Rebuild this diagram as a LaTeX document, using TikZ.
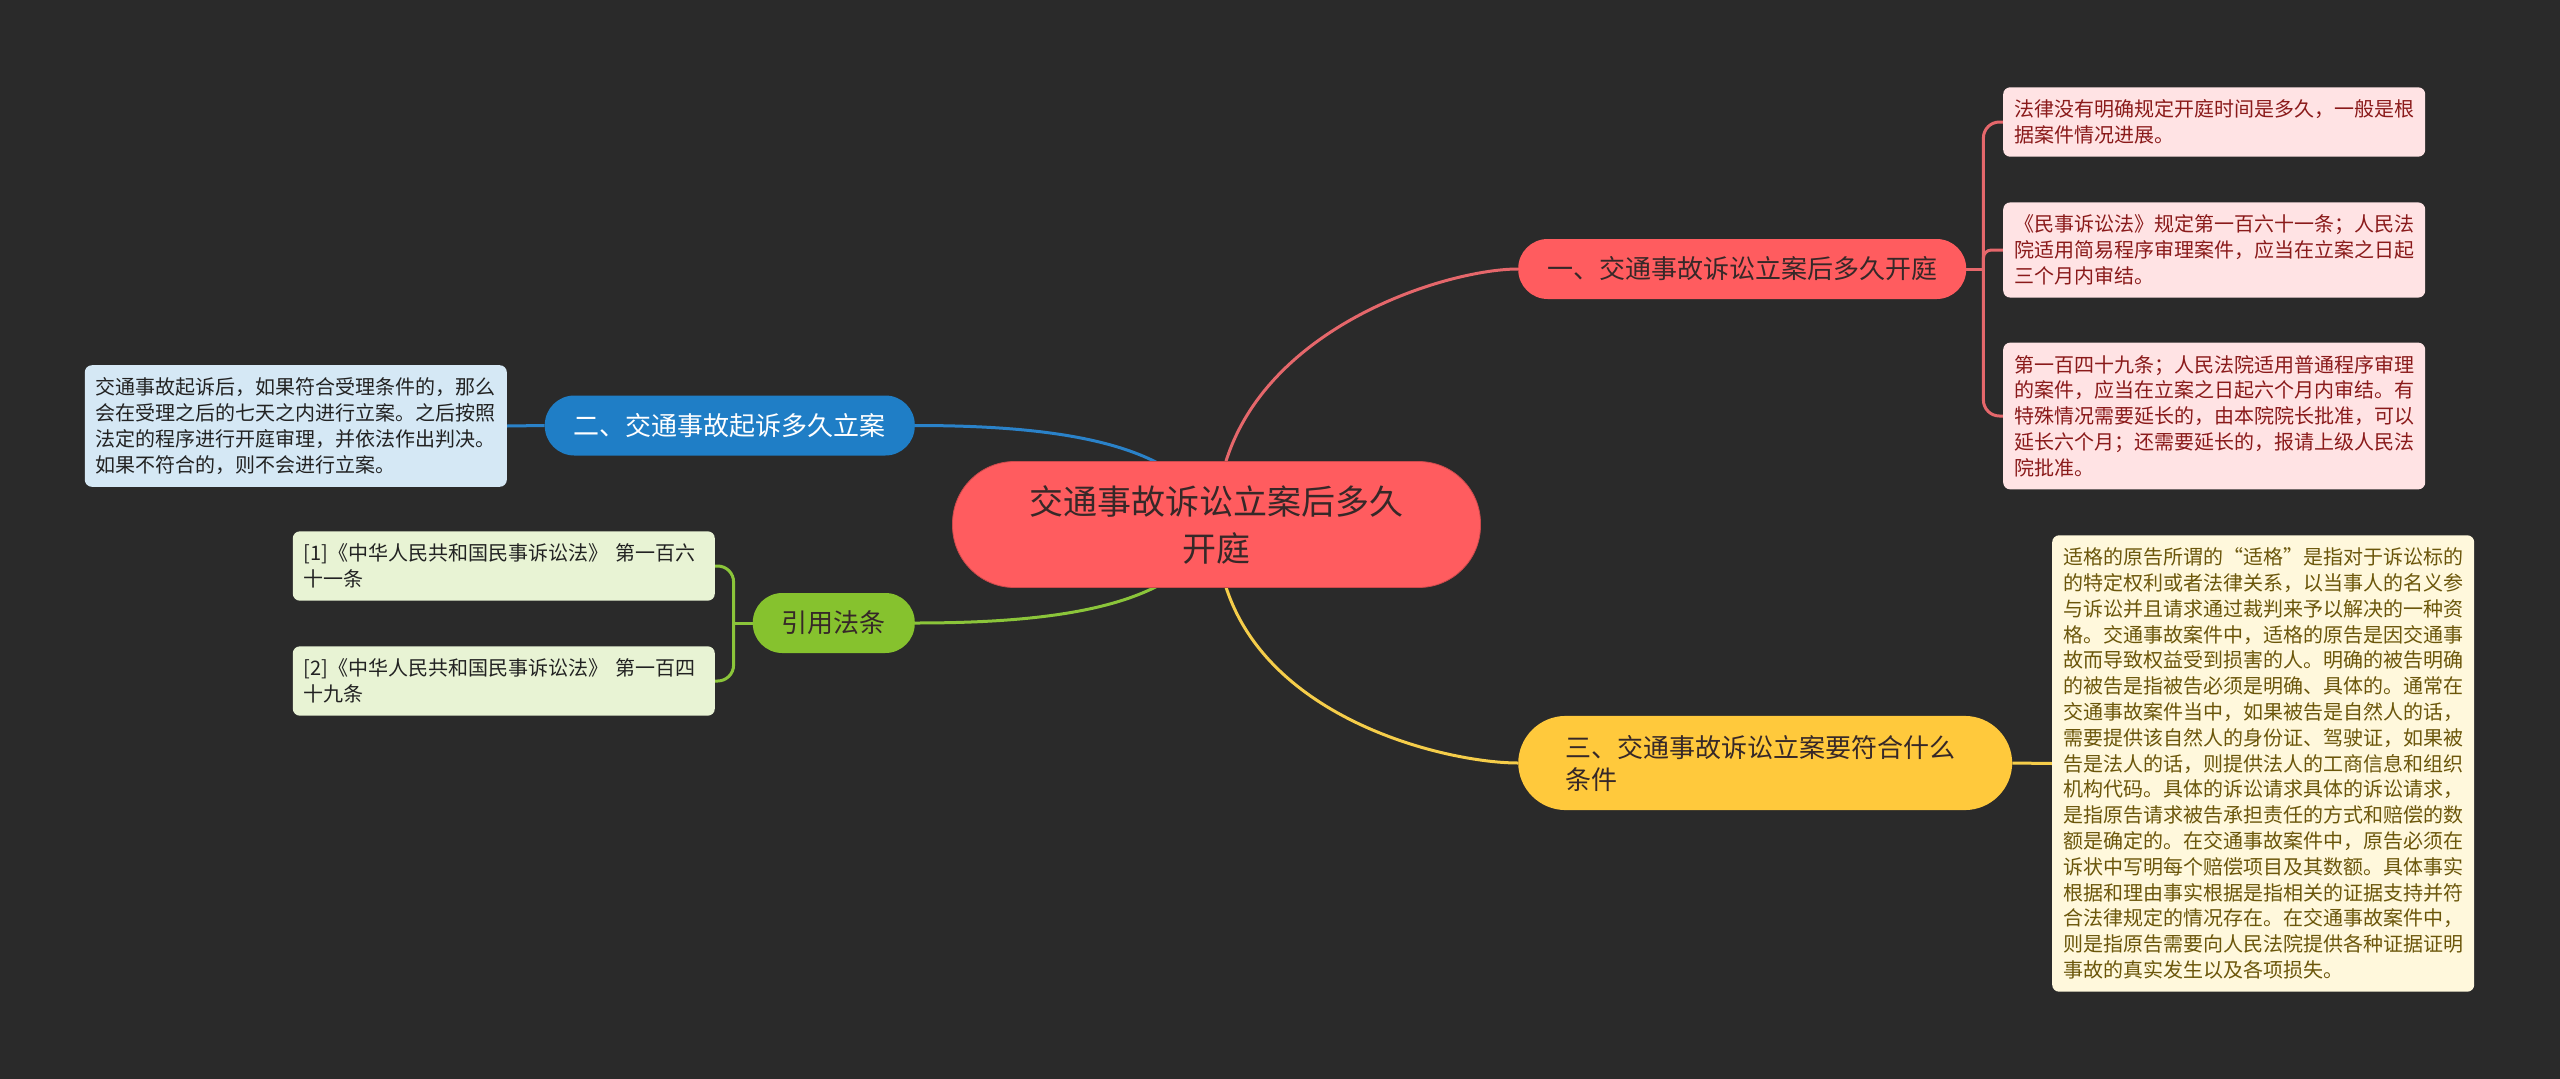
\documentclass[tikz,border=0pt]{standalone}
\usepackage{fontspec}
\setmainfont{Noto Sans CJK SC}
\newcommand{\fwq}[1]{{\addfontfeature{CharacterWidth=Full}#1}}
\pgfdeclarelayer{background}
\pgfsetlayers{background,main}

\definecolor{bg}{HTML}{2A2A2A}
\definecolor{rootred}{HTML}{FF5C5F}
\definecolor{darktext}{HTML}{362828}
\definecolor{redline}{HTML}{E5676B}
\definecolor{bluefill}{HTML}{1F7EC6}
\definecolor{blueline}{HTML}{2A82C9}
\definecolor{yellowfill}{HTML}{FFC93C}
\definecolor{yellowline}{HTML}{F5CD4A}
\definecolor{greenfill}{HTML}{86C22E}
\definecolor{greenline}{HTML}{8BC53A}
\definecolor{redleaf}{HTML}{FFE3E4}
\definecolor{redtext}{HTML}{8A1A1A}
\definecolor{yellowleaf}{HTML}{FFF8DC}
\definecolor{yellowtext}{HTML}{6B560A}
\definecolor{blueleaf}{HTML}{D5E8F5}
\definecolor{greenleaf}{HTML}{E8F3D4}
\definecolor{leaftext}{HTML}{222222}

\tikzset{
  topic/.style={rounded corners=29.5pt, minimum height=60pt, inner xsep=29pt, inner ysep=0pt,
    font=\fontsize{26pt}{32pt}\selectfont},
  leaf/.style={rounded corners=7pt, text width=400pt, inner xsep=11pt, inner ysep=12.5pt,
    align=left, font=\fontsize{20pt}{25.8pt}\selectfont},
  link/.style={line width=3pt},
}

\begin{document}
\begin{tikzpicture}[x=1pt,y=-1pt]
\useasboundingbox (0,0) rectangle (2560,1079);

\node[fill=rootred, draw=rootred!80!black, line width=0.8pt, rounded corners=62pt, text width=376pt,
  align=center, minimum height=126pt, inner xsep=76pt, inner ysep=20pt, text=darktext,
  font=\fontsize{34pt}{47pt}\selectfont] (R) at (1216.5,524.5) {交通事故诉讼立案后多久\\开庭};

\node[topic, fill=rootred, text=darktext, anchor=west] (A) at (1518,269) {一、交通事故诉讼立案后多久开庭};
\node[topic, fill=bluefill, text=white, anchor=east] (B) at (915,425.5) {二、交通事故起诉多久立案};
\node[topic, fill=yellowfill, text=darktext, anchor=west, text width=400pt, align=left,
  inner xsep=47pt, inner ysep=19pt, rounded corners=47.5pt] (C) at (1518,763) {三、交通事故诉讼立案要符合什么\\条件};
\node[topic, fill=greenfill, text=darktext, anchor=east] (D) at (915,623) {引用法条};

\node[leaf, fill=redleaf, text=redtext, anchor=west] (A1) at (2003,122) {法律没有明确规定开庭时间是多久，一般是根\\据案件情况进展。};
\node[leaf, fill=redleaf, text=redtext, anchor=west] (A2) at (2003,250) {《民事诉讼法》规定第一百六十一条；人民法\\院适用简易程序审理案件，应当在立案之日起\\三个月内审结。};
\node[leaf, fill=redleaf, text=redtext, anchor=west] (A3) at (2003,416) {第一百四十九条；人民法院适用普通程序审理\\的案件，应当在立案之日起六个月内审结。有\\特殊情况需要延长的，由本院院长批准，可以\\延长六个月；还需要延长的，报请上级人民法\\院批准。};

\node[leaf, fill=blueleaf, text=leaftext, anchor=east] (B1) at (507,426) {交通事故起诉后，如果符合受理条件的，那么\\会在受理之后的七天之内进行立案。之后按照\\法定的程序进行开庭审理，并依法作出判决。\\如果不符合的，则不会进行立案。};

\node[leaf, fill=yellowleaf, text=yellowtext, anchor=west] (C1) at (2052,763.5) {适格的原告所谓的\fwq{“}适格\fwq{”}是指对于诉讼标的\\的特定权利或者法律关系，以当事人的名义参\\与诉讼并且请求通过裁判来予以解决的一种资\\格。交通事故案件中，适格的原告是因交通事\\故而导致权益受到损害的人。明确的被告明确\\的被告是指被告必须是明确、具体的。通常在\\交通事故案件当中，如果被告是自然人的话，\\需要提供该自然人的身份证、驾驶证，如果被\\告是法人的话，则提供法人的工商信息和组织\\机构代码。具体的诉讼请求具体的诉讼请求，\\是指原告请求被告承担责任的方式和赔偿的数\\额是确定的。在交通事故案件中，原告必须在\\诉状中写明每个赔偿项目及其数额。具体事实\\根据和理由事实根据是指相关的证据支持并符\\合法律规定的情况存在。在交通事故案件中，\\则是指原告需要向人民法院提供各种证据证明\\事故的真实发生以及各项损失。};

\node[leaf, fill=greenleaf, text=leaftext, anchor=east] (D1) at (715,566) {[1]《中华人民共和国民事诉讼法》~第一百六\\十一条};
\node[leaf, fill=greenleaf, text=leaftext, anchor=east] (D2) at (715,681) {[2]《中华人民共和国民事诉讼法》~第一百四\\十九条};

\begin{pgfonlayer}{background}
\fill[bg] (0,0) rectangle (2560,1079);

\draw[link, redline] (R.center) .. controls +(0,-185) and +(-78,0) .. (A.west);
\draw[link, yellowline] (R.center) .. controls +(0,185) and +(-78,0) .. (C.west);
\draw[link, blueline] (B.east) .. controls +(150,0) and +(-30,-80) .. (R.center);
\draw[link, greenline] (D.east) .. controls +(150,0) and +(-30,80) .. (R.center);

\draw[link, redline] (A.east) -- ++(17,0) coordinate (a);
\draw[link, redline, rounded corners=16pt] (a) |- (A1.west);
\draw[link, redline, rounded corners=8pt] (a) |- (A2.west);
\draw[link, redline, rounded corners=16pt] (a) |- (A3.west);

\draw[link, blueline] (B.west) -- (B1.east);
\draw[link, yellowline] (C.east) -- (C1.west);

\draw[link, greenline] (D.west) -- ++(-19,0) coordinate (d);
\draw[link, greenline, rounded corners=16pt] (d) |- (D1.east);
\draw[link, greenline, rounded corners=16pt] (d) |- (D2.east);
\end{pgfonlayer}
\end{tikzpicture}
\end{document}
